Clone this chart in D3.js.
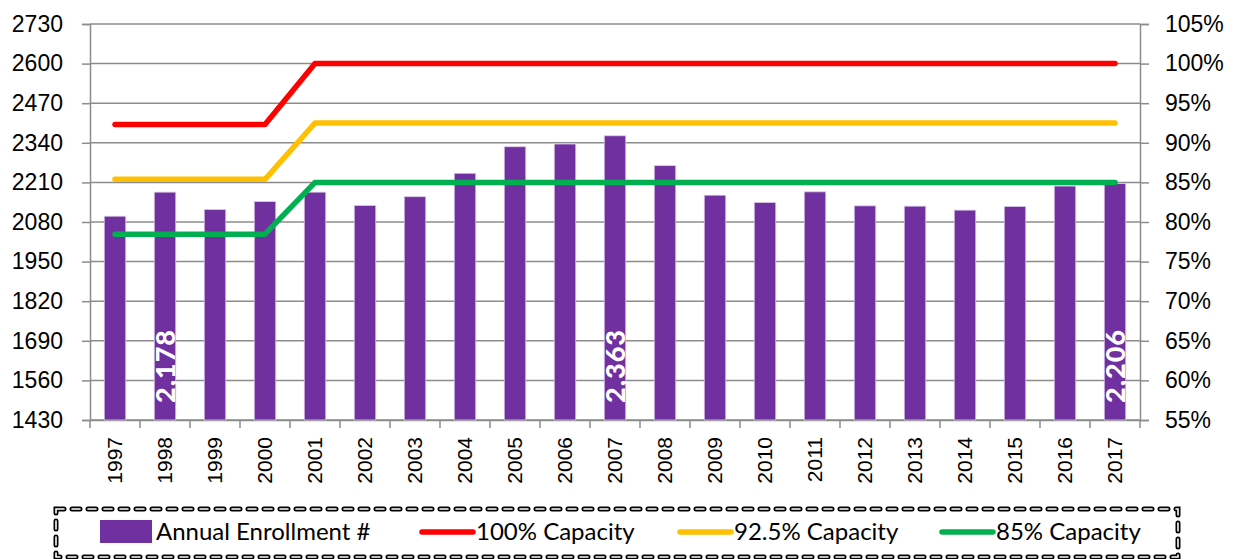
<!DOCTYPE html>
<html>
<head>
<meta charset="utf-8">
<script src="https://cdn.jsdelivr.net/npm/d3@7"></script>
<style>
  body { margin: 0; background: #fff; }
  svg { display: block; font-family: Lato, "Open Sans", sans-serif; }
</style>
</head>
<body>
<div id="chart"></div>
<script>
// data
const years = ["1997","1998","1999","2000","2001","2002","2003","2004","2005","2006","2007",
  "2008","2009","2010","2011","2012","2013","2014","2015","2016","2017"];
const enrollment = [2099, 2178, 2121, 2147, 2178, 2134, 2163, 2240, 2327, 2336, 2363,
  2265, 2168, 2144, 2179, 2133, 2132, 2119, 2131, 2198, 2206];
const cap100 = [2400, 2400, 2400, 2400, 2600, 2600, 2600, 2600, 2600, 2600, 2600,
  2600, 2600, 2600, 2600, 2600, 2600, 2600, 2600, 2600, 2600];
const cap925 = [2220, 2220, 2220, 2220, 2405, 2405, 2405, 2405, 2405, 2405, 2405,
  2405, 2405, 2405, 2405, 2405, 2405, 2405, 2405, 2405, 2405];
const cap85 = [2040, 2040, 2040, 2040, 2210, 2210, 2210, 2210, 2210, 2210, 2210,
  2210, 2210, 2210, 2210, 2210, 2210, 2210, 2210, 2210, 2210];
const labelYears = ["1998", "2007", "2017"];
const leftTicks = [1430, 1560, 1690, 1820, 1950, 2080, 2210, 2340, 2470, 2600, 2730];
const rightTicks = [0.55, 0.60, 0.65, 0.70, 0.75, 0.80, 0.85, 0.90, 0.95, 1.00, 1.05];

const width = 1234;
const height = 559;
const margin = { top: 24, right: 94, bottom: 139, left: 90 };

const purple = "#7030A0";
const gridColor = "#8c8c8c";

const series = [
  { name: "100% Capacity", values: cap100, color: "#FF0000" },
  { name: "92.5% Capacity", values: cap925, color: "#FFC000" },
  { name: "85% Capacity", values: cap85, color: "#00B050" }
];

const svg = d3.select("#chart").append("svg")
  .attr("width", width)
  .attr("height", height);

const x = d3.scaleBand()
  .domain(years)
  .range([margin.left, width - margin.right])
  .paddingInner(0.57)
  .paddingOuter(0.285);

const y = d3.scaleLinear()
  .domain([1430, 2730])
  .range([height - margin.bottom, margin.top]);

const yRight = d3.scaleLinear()
  .domain([0.55, 1.05])
  .range([height - margin.bottom, margin.top]);

const plotLeft = margin.left;
const plotRight = width - margin.right;
const plotBottom = height - margin.bottom;

// horizontal gridlines
svg.append("g")
  .selectAll("line")
  .data(leftTicks)
  .join("line")
  .attr("x1", plotLeft)
  .attr("x2", plotRight)
  .attr("y1", d => y(d))
  .attr("y2", d => y(d))
  .attr("stroke", gridColor)
  .attr("stroke-width", 1.5);

// left axis
const leftAxis = svg.append("g")
  .attr("transform", `translate(${plotLeft},0)`)
  .call(d3.axisLeft(y).tickValues(leftTicks).tickSize(8).tickPadding(19).tickFormat(d3.format("d")));

// right axis
const rightAxis = svg.append("g")
  .attr("transform", `translate(${plotRight},0)`)
  .call(d3.axisRight(yRight).tickValues(rightTicks).tickSize(9).tickPadding(16).tickFormat(d3.format(".0%")));

// bottom axis, ticks sit on band edges
const xAxis = svg.append("g")
  .attr("transform", `translate(0,${plotBottom})`)
  .call(d3.axisBottom(x).tickSize(0).tickPadding(0));

xAxis.selectAll(".tick text")
  .attr("transform", "rotate(-90)")
  .attr("text-anchor", "end")
  .attr("x", -17)
  .attr("y", 0)
  .attr("dy", "0.35em")
  .attr("font-size", 21)
  .attr("fill", "#000");

svg.append("g")
  .selectAll("line")
  .data(years.concat(["end"]))
  .join("line")
  .attr("x1", (d, i) => plotLeft + i * x.step())
  .attr("x2", (d, i) => plotLeft + i * x.step())
  .attr("y1", plotBottom)
  .attr("y2", plotBottom + 8)
  .attr("stroke", gridColor)
  .attr("stroke-width", 1.5);

[leftAxis, rightAxis, xAxis].forEach(g => {
  g.select(".domain").attr("stroke", gridColor).attr("stroke-width", 1.5);
  g.selectAll(".tick line").attr("stroke", gridColor).attr("stroke-width", 1.5);
});
leftAxis.selectAll(".tick text").attr("font-size", 23).attr("fill", "#000");
rightAxis.selectAll(".tick text").attr("font-size", 23).attr("fill", "#000");

// bars
svg.append("g")
  .selectAll("rect")
  .data(enrollment)
  .join("rect")
  .attr("x", (d, i) => x(years[i]))
  .attr("y", d => y(d))
  .attr("width", x.bandwidth())
  .attr("height", d => plotBottom - y(d))
  .attr("fill", purple)
  .attr("stroke", "#d9c9e6")
  .attr("stroke-width", 0.8);

// capacity lines
const line = d3.line()
  .x((d, i) => x(years[i]) + x.bandwidth() / 2)
  .y(d => y(d));

svg.append("g")
  .selectAll("path")
  .data(series)
  .join("path")
  .attr("d", d => line(d.values))
  .attr("fill", "none")
  .attr("stroke", d => d.color)
  .attr("stroke-width", 5.5)
  .attr("stroke-linecap", "round")
  .attr("stroke-linejoin", "round");

// value labels inside selected bars
svg.append("g")
  .selectAll("text")
  .data(labelYears)
  .join("text")
  .attr("transform", d => `translate(${x(d) + x.bandwidth() / 2},${plotBottom - 17}) rotate(-90)`)
  .attr("dy", "0.37em")
  .attr("font-size", 27)
  .attr("font-weight", 900)
  .attr("letter-spacing", 1)
  .attr("fill", "#fff")
  .text(d => d3.format(",")(enrollment[years.indexOf(d)]));

// legend box with the hollow dashed border
const box = { x: 56, y: 509, w: 1122, h: 48 };
svg.append("rect")
  .attr("x", box.x).attr("y", box.y)
  .attr("width", box.w).attr("height", box.h)
  .attr("fill", "none")
  .attr("stroke", "#000")
  .attr("stroke-width", 5)
  .attr("stroke-dasharray", "8 8")
  .attr("stroke-linecap", "round");
svg.append("rect")
  .attr("x", box.x).attr("y", box.y)
  .attr("width", box.w).attr("height", box.h)
  .attr("fill", "none")
  .attr("stroke", "#fff")
  .attr("stroke-width", 1.6)
  .attr("stroke-dasharray", "8 8")
  .attr("stroke-linecap", "round");

const legendItems = [
  { name: "Annual Enrollment #", color: purple, type: "rect", x: 100 },
  { name: series[0].name, color: series[0].color, type: "line", x: 420 },
  { name: series[1].name, color: series[1].color, type: "line", x: 678 },
  { name: series[2].name, color: series[2].color, type: "line", x: 940 }
];

const legend = svg.append("g")
  .selectAll("g")
  .data(legendItems)
  .join("g")
  .attr("transform", d => `translate(${d.x},532)`);

legend.filter(d => d.type === "rect")
  .append("rect")
  .attr("x", 0).attr("y", -12)
  .attr("width", 52).attr("height", 23)
  .attr("fill", d => d.color);

legend.filter(d => d.type === "line")
  .append("line")
  .attr("x1", 2).attr("x2", 53)
  .attr("stroke", d => d.color)
  .attr("stroke-width", 5.5)
  .attr("stroke-linecap", "round");

legend.append("text")
  .attr("x", 56)
  .attr("dy", "0.35em")
  .attr("font-size", 24)
  .attr("fill", "#000")
  .text(d => d.name);
</script>
</body>
</html>
